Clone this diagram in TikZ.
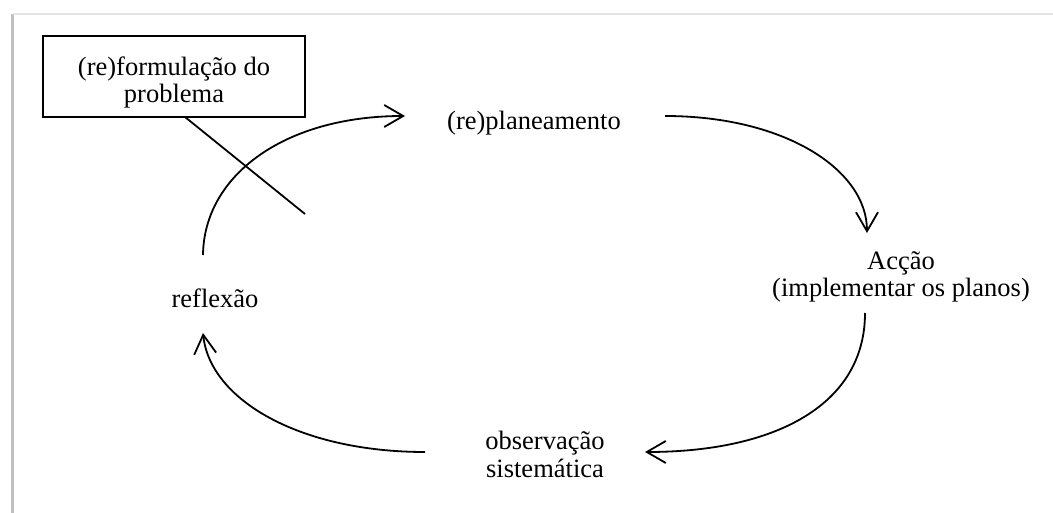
\documentclass[tikz,border=0pt]{standalone}
\usepackage{fontspec}
\setmainfont{Liberation Serif}
\usetikzlibrary{arrows.meta}
\begin{document}
\begin{tikzpicture}[x=1pt,y=-1pt,
  txt/.style={inner sep=0pt, font=\fontsize{26.5}{27.5}\selectfont, align=center},
  cycle/.style={line width=1.8pt, -{Straight Barb[length=19pt,width=22pt,line width=1.8pt]}},
  plainline/.style={line width=1.8pt},
  framebox/.style={draw, line width=2.5pt, inner sep=0pt, minimum width=262pt, minimum height=81pt}]
  \useasboundingbox (0,0) rectangle (1053,513);
  % soft frame edges
  \draw[line width=3pt, black!25] (12,14) -- (12,513);
  \draw[line width=2pt, black!10] (13,14) -- (1053,14);

  % labels (base anchor = baseline of the last line)
  \node[framebox] (box) at (174,76.5) {};
  \node[txt, anchor=base] (form) at (174,103) {(re)formulação do\\problema};
  \node[txt, anchor=base] (plan) at (534,130) {(re)planeamento};
  \node[txt, anchor=base] (acao) at (901,297) {Acção\\(implementar os planos)};
  \node[txt, anchor=base] (obs) at (545,477) {observação\\sistemática};
  \node[txt, anchor=base] (refl) at (215,308) {reflexão};

  % connector end points
  \coordinate (a1) at (203,255);
  \coordinate (b1) at (405,116);
  \coordinate (a2) at (665,116);
  \coordinate (b2) at (867,233);
  \coordinate (a3) at (865,313);
  \coordinate (b3) at (645,452);
  \coordinate (a4) at (425,452);
  \coordinate (b4) at (203,333);
  \coordinate (p0) at (185,117);
  \coordinate (p1) at (305,214);

  % cycle arrows
  \draw[cycle] (a1) .. controls (204,175) and (285,116) .. (b1);
  \draw[cycle] (a2) .. controls (785,116) and (867,170) .. (b2);
  \draw[cycle] (a3) .. controls (865,405) and (775,452) .. (b3);
  \draw[cycle] (a4) .. controls (300,452) and (210,400) .. (b4);

  % pointer from the problem box
  \draw[plainline] (p0) -- (p1);
\end{tikzpicture}
\end{document}
